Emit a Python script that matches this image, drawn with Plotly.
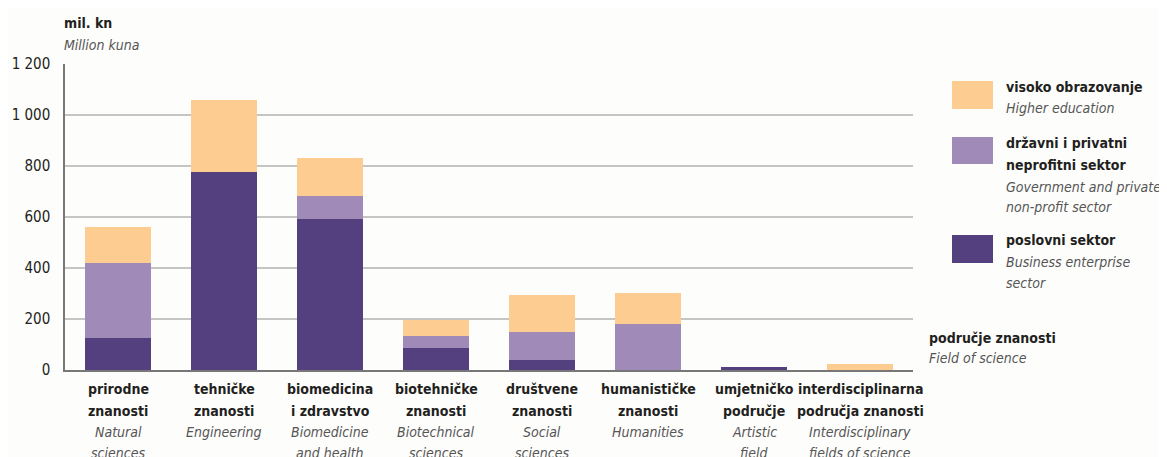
import plotly.graph_objects as go

# ---- data ----
fields_hr = [["prirodne", "znanosti"], ["tehničke", "znanosti"], ["biomedicina", "i zdravstvo"],
             ["biotehničke", "znanosti"], ["društvene", "znanosti"], ["humanističke", "znanosti"],
             ["umjetničko", "područje"], ["interdisciplinarna", "područja znanosti"]]
fields_en = [["Natural", "sciences"], ["Engineering"], ["Biomedicine", "and health"],
             ["Biotechnical", "sciences"], ["Social", "sciences"], ["Humanities"],
             ["Artistic", "field"], ["Interdisciplinary", "fields of science"]]
business = [125, 776, 592, 85, 40, 0, 10, 0]
government = [296, 0, 92, 50, 108, 181, 0, 0]
higher_ed = [139, 282, 149, 60, 146, 122, 0, 22]
y_ticks = [0, 200, 400, 600, 800, 1000, 1200]
y_ticktext = ["0", "200", "400", "600", "800", "1 000", "1 200"]
grid_vals = [200, 400, 600, 800, 1000]

C_DARK = "#54407f"
C_MID = "#9f8ab8"
C_ORANGE = "#fdcc91"
TXT = "#231f20"
GREY = "#555555"
FONT = "DejaVu Sans Condensed, DejaVu Sans, sans-serif"

OFF = 8  # page body margin offset
W, H = 1167 - OFF, 457 - OFF
L, R, T, B = 65, 913, 64, 370  # plot area in reference pixels

def px(x):
    return (x - L) / (R - L)

def py(y):
    return (B - y) / (B - T)

cats = list(range(len(fields_hr)))

fig = go.Figure()
for vals, col, name in [(business, C_DARK, "poslovni sektor"),
                        (government, C_MID, "državni i privatni neprofitni sektor"),
                        (higher_ed, C_ORANGE, "visoko obrazovanje")]:
    fig.add_bar(x=cats, y=vals, marker=dict(color=col, line=dict(width=0)),
                name=name, showlegend=False)

shapes = []
for g in grid_vals:
    shapes.append(dict(type="line", xref="paper", yref="y", x0=0, x1=1, y0=g, y1=g,
                       line=dict(color="#8c8c8c", width=1), layer="below"))

# legend swatches
for (y0, y1, col) in [(81, 109, C_ORANGE), (137, 164, C_MID), (235, 263, C_DARK)]:
    shapes.append(dict(type="rect", xref="paper", yref="paper",
                       x0=px(952), x1=px(993), y0=py(y1), y1=py(y0),
                       fillcolor=col, line=dict(width=0)))

annotations = []
def txt(x, y, s, bold=False, italic=False, size=14, anchor="left", xref="paper"):
    if bold:
        s = f"<b>{s}</b>"
    if italic:
        s = f"<i>{s}</i>"
    annotations.append(dict(xref=xref, yref="paper", x=px(x) if xref == "paper" else x,
                            y=py(y), text=s,
                            showarrow=False, xanchor=anchor, yanchor="middle",
                            borderpad=0,
                            font=dict(family=FONT, size=size,
                                      color=GREY if italic else TXT)))

txt(63, 23, "mil. kn", bold=True)
txt(63, 45, "Million kuna", italic=True)

txt(1005, 87, "visoko obrazovanje", bold=True)
txt(1005, 108, "Higher education", italic=True)
txt(1005, 143, "državni i privatni", bold=True)
txt(1005, 165, "neprofitni sektor", bold=True)
txt(1005, 187, "Government and private", italic=True)
txt(1005, 207, "non-profit sector", italic=True)
txt(1005, 240, "poslovni sektor", bold=True)
txt(1005, 262, "Business enterprise", italic=True)
txt(1005, 283, "sector", italic=True)
txt(928, 338, "područje znanosti", bold=True)
txt(928, 358, "Field of science", italic=True)

# category labels, one annotation per line
line_y = [389, 410.5, 431.5, 453]
for c, hr, en in zip(cats, fields_hr, fields_en):
    for i, s in enumerate(hr):
        txt(c, line_y[i], s, bold=True, size=14, anchor="center", xref="x")
    for j, s in enumerate(en):
        txt(c, line_y[len(hr) + j], s, italic=True, size=14, anchor="center", xref="x")

fig.update_layout(
    width=W, height=H,
    margin=dict(l=L - OFF, r=W - (R - OFF), t=T - OFF, b=H - (B - OFF), autoexpand=False),
    paper_bgcolor="#fdfdfc", plot_bgcolor="#fdfdfc",
    barmode="stack", bargap=0.38,
    font=dict(family=FONT, size=15, color=TXT),
    shapes=shapes, annotations=annotations,
    showlegend=False,
    xaxis=dict(tickmode="array", tickvals=cats, showticklabels=False,
               range=[-0.5, len(cats) - 0.5], showgrid=False, automargin=False,
               showline=True, linecolor="#777777", linewidth=1.5,
               ticks="", fixedrange=True),
    yaxis=dict(range=[0, 1200], tickmode="array", tickvals=y_ticks, ticktext=y_ticktext,
               showgrid=False, zeroline=False, showline=True, linecolor="#777777",
               linewidth=1.5, ticks="", ticklabelstandoff=10, automargin=False,
               tickfont=dict(family=FONT, size=15, color=TXT), fixedrange=True),
)

fig.write_html("out.html")
